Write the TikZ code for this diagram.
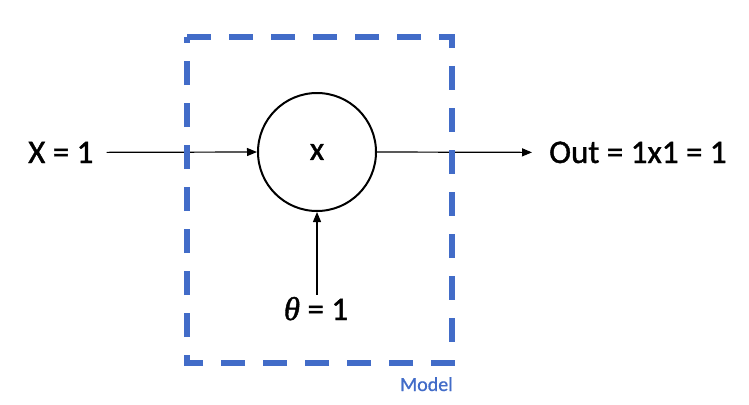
\documentclass[tikz,border=0pt]{standalone}
\usepackage{fontspec}
\setmainfont{Carlito}
\newfontfamily\thetafont{Liberation Serif}
\usetikzlibrary{arrows.meta}
\definecolor{modelblue}{RGB}{66,108,200}
\tikzset{
  big/.style={font=\fontsize{33}{40}\selectfont\addfontfeatures{FakeBold=1.2}, inner sep=2pt},
  arr/.style={line width=1.2pt, -{Triangle[length=10pt,width=8pt]}},
  neuron/.style={circle, draw, line width=2pt, minimum size=118pt, inner sep=0pt, font=\fontsize{33}{40}\selectfont\addfontfeatures{FakeBold=1.2}},
  modelbox/.style={draw=modelblue, line width=6pt, dash pattern=on 24pt off 18pt, line join=miter}
}
\begin{document}
\begin{tikzpicture}[x=1pt,y=-1pt]
\useasboundingbox (0,0) rectangle (749,404);
\node[neuron] (c) at (317,152) {\raisebox{-4pt}{x}};
\node[big, anchor=base west] (xin) at (26,163) {X = 1};
\node[big, anchor=base west] (out) at (547,163) {Out = 1x1 = 1};
\node[big, anchor=base] (th) at (316,320) {{\thetafont\itshape\addfontfeatures{FakeBold=1.2}θ} = 1};
\node[font=\fontsize{20}{24}\selectfont\addfontfeatures{FakeBold=0.8}, text=modelblue, anchor=base east, inner sep=0pt] (model) at (453,391) {Model};
\draw[arr, shorten <=11pt] (xin.east) -- (c.west);
\draw[arr, shorten >=15pt] (c.east) -- (out.west);
\draw[arr] (c.south |- th.north) -- (c.south);
\draw[modelbox] (187,37) -- (452,37) -- (452,363) -- (187,363) -- cycle;
\end{tikzpicture}
\end{document}
